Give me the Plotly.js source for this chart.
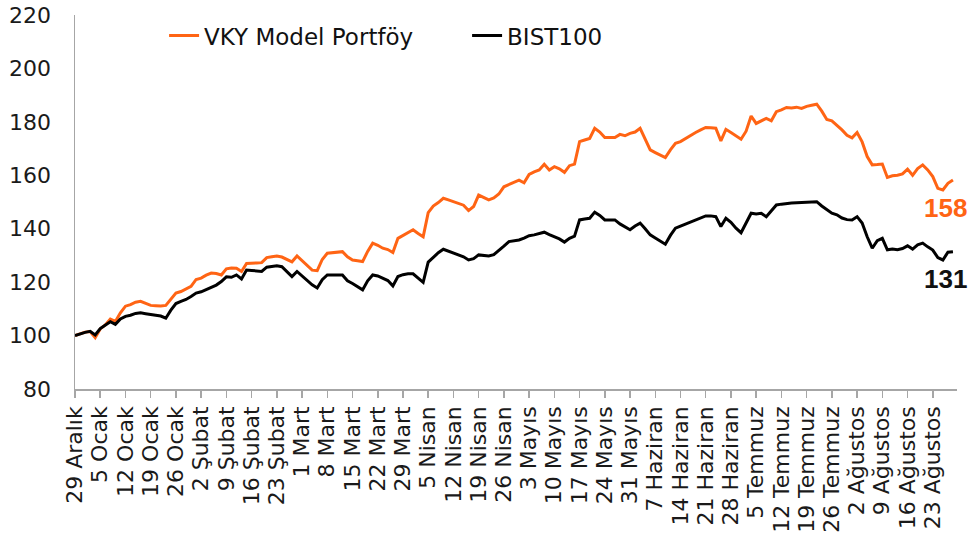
<!DOCTYPE html>
<html>
<head>
<meta charset="utf-8">
<script src="https://cdn.plot.ly/plotly-3.0.1.min.js"></script>
<style>
html,body{margin:0;padding:0;background:#ffffff;}
#chart{width:971px;height:552px;}
</style>
</head>
<body>
<div id="chart"></div>
<script>
// Weekly tick labels
const weekLabels = [
  "29 Aralık","5 Ocak","12 Ocak","19 Ocak","26 Ocak","2 Şubat","9 Şubat","16 Şubat","23 Şubat",
  "1 Mart","8 Mart","15 Mart","22 Mart","29 Mart","5 Nisan","12 Nisan","19 Nisan","26 Nisan",
  "3 Mayıs","10 Mayıs","17 Mayıs","24 Mayıs","31 Mayıs","7 Haziran","14 Haziran","21 Haziran",
  "28 Haziran","5 Temmuz","12 Temmuz","19 Temmuz","26 Temmuz","2 Ağustos","9 Ağustos",
  "16 Ağustos","23 Ağustos"
];

// Series names
const seriesNames = ["VKY Model Portföy", "BIST100"];

// Daily values (trading days, 5 per week)
const vkyModel = [
  100,100.8,101.3,101.5,99.2, 102.5,104,106.2,105.3,108.5,
  111,111.6,112.5,112.8,112, 111.3,111.2,111.1,111.3,113.5,
  115.9,116.5,117.4,118.4,121, 121.5,122.6,123.4,123.2,122.7,
  125,125.3,125.2,124,127, 127.2,127.2,127.3,129.2,129.5,
  129.8,129.4,128.6,127.6,129.8, 128,126.3,124.5,124.3,128.5,
  130.8,131,131.2,131.4,129.5, 128.3,128,127.7,131.5,134.6,
  133.8,132.7,132.2,131.1,136.4, 137.5,138.8,139.6,138.2,137,
  146,148.5,149.8,151.4,150.8, 150.2,149.5,148.8,146.8,148.3,
  152.6,151.6,150.8,151.5,153, 155.7,156.5,157.5,158.2,157.2,
  160.3,161.3,162,164.1,162, 163.2,162.4,161.1,163.6,164.2,
  172.6,173.2,173.8,177.6,176.2, 174.1,174,174.1,175.3,174.8,
  175.7,176.2,177.6,173.5,169.5, 168.5,167.6,166.6,169.5,172,
  172.6,173.8,175,176,177, 177.9,177.8,177.6,172.9,177.2,
  176,174.8,173.5,176.5,182.2, 179.4,180.5,181.3,180.4,183.8,
  184.5,185.4,185.2,185.5,185, 185.8,186.2,186.6,184,180.9,
  180.4,178.8,177,175,174, 176,172.5,167,163.9,164,
  164.2,159.2,159.8,160,160.5, 162.3,160,162.5,163.9,162,
  159.5,155.1,154.5,157,158.2
];

const bist100 = [
  100,100.7,101.2,101.6,100.2, 102.6,103.8,105.2,104.2,106.2,
  107.2,107.6,108.3,108.5,108.2, 107.8,107.6,107.3,106.5,109.5,
  112,112.8,113.5,114.6,115.9, 116.4,117.2,118.3,118.9,120.2,
  122,121.8,122.7,121.2,124.5, 124.4,124.3,124,125.6,125.9,
  126.1,125.8,124,122.1,124, 122.3,120.8,119,117.8,120.9,
  122.7,122.8,122.7,122.7,120.5, 119.5,118.2,117.1,120.5,122.7,
  122.3,121.5,120.6,118.6,122.1, 122.8,123.1,123.1,121.6,119.9,
  127.5,129.3,131,132.3,131.6, 130.9,130.2,129.5,128.3,128.8,
  130.2,130,129.8,130.3,131.8, 133.5,135.2,135.6,135.8,136.5,
  137.4,137.7,138.3,138.7,137.8, 137,136.2,135,136.4,137.2,
  143.3,143.6,143.9,146.2,145, 143.3,143.4,143.3,141.8,140.8,
  139.6,141,142.1,140,137.7, 136.5,135.3,134.2,137.5,140.2,
  141,141.8,142.5,143.2,144, 144.8,144.8,144.5,140.8,143.9,
  142.4,140.2,138.5,142,145.8, 145.5,145.8,144.5,146.8,148.9,
  149.2,149.5,149.6,149.7,149.8, 150,150,150.1,148.5,147,
  145.8,145.2,144,143.4,143.3, 144.5,142.1,137,132.7,135.5,
  136.4,132.1,132.4,132.1,132.6, 133.6,132.4,134,134.6,133.2,
  132,129.2,128.3,131.2,131.4
];

const tradingDaysPerWeek = 5;
const xDays = vkyModel.map((_, i) => i / tradingDaysPerWeek);
const weekTicks = weekLabels.map((_, i) => i);

const orange = "#ff6414";
const black = "#000000";
const axisGray = "#a6a6a6";
const fontFam = "DejaVu Sans, Verdana, sans-serif";

const traces = [
  {x: xDays, y: vkyModel, name: seriesNames[0], type: "scatter", mode: "lines",
   line: {color: orange, width: 3}},
  {x: xDays, y: bist100, name: seriesNames[1], type: "scatter", mode: "lines",
   line: {color: black, width: 3}}
];

const lastX = xDays[xDays.length - 1];
const lastO = vkyModel[vkyModel.length - 1];
const lastB = bist100[bist100.length - 1];

const layout = {
  width: 971, height: 552,
  margin: {l: 75, r: 14, t: 15, b: 163, pad: 0},
  paper_bgcolor: "#ffffff", plot_bgcolor: "#ffffff",
  font: {family: fontFam, color: "#1a1a1a", size: 22},
  showlegend: true,
  legend: {orientation: "h", x: 0.101, y: 0.945, xanchor: "left", yanchor: "middle",
    font: {family: fontFam, size: 23, color: "#111111"},
    bgcolor: "rgba(0,0,0,0)", entrywidth: 258, entrywidthmode: "pixels",
    itemwidth: 30},
  xaxis: {
    range: [0, 34.96], tickmode: "array", tickvals: weekTicks, ticktext: weekLabels,
    tickangle: -90, ticks: "outside", ticklen: 7, tickwidth: 1.5, tickcolor: axisGray,
    showline: true, linecolor: axisGray, linewidth: 1.5, showgrid: false, zeroline: false,
    tickfont: {family: fontFam, size: 22, color: "#1a1a1a"}, fixedrange: true
  },
  yaxis: {
    range: [80, 220], tickmode: "linear", tick0: 80, dtick: 20,
    ticks: "outside", ticklen: 18, tickcolor: "rgba(0,0,0,0)",
    showline: true, linecolor: axisGray, linewidth: 1.5, showgrid: false, zeroline: false,
    tickfont: {family: fontFam, size: 22, color: "#1a1a1a"}, fixedrange: true
  },
  annotations: [
    {x: lastX, y: lastO, xref: "x", yref: "y", text: String(Math.round(lastO)),
     showarrow: false, xanchor: "center", yanchor: "middle", xshift: -7, yshift: -28,
     font: {family: "Liberation Sans, Arial, sans-serif", size: 26, color: orange, weight: "bold"}},
    {x: lastX, y: lastB, xref: "x", yref: "y", text: String(Math.round(lastB)),
     showarrow: false, xanchor: "center", yanchor: "middle", xshift: -7, yshift: -27,
     font: {family: "Liberation Sans, Arial, sans-serif", size: 26, color: "#111111", weight: "bold"}}
  ]
};

Plotly.newPlot("chart", traces, layout, {staticPlot: true, displayModeBar: false});
</script>
</body>
</html>
